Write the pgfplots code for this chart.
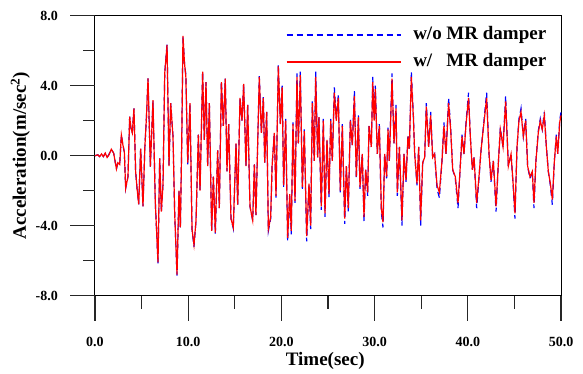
\documentclass[border=0pt]{standalone}
\usepackage{pgfplots}
\pgfplotsset{compat=1.18}
\usepackage{pgfplotstable}
\usepackage{fontspec}
\setmainfont{Liberation Serif}

\pgfplotstableread{
t r b
0.0 0.00 0.00
0.3 0.05 0.05
0.5 -0.05 -0.05
0.7 0.10 0.10
0.9 -0.05 -0.05
1.1 0.15 0.12
1.3 -0.10 -0.10
1.5 0.05 0.08
1.75 0.37 0.37
2.0 0.15 0.15
2.15 -0.30 -0.30
2.3 -0.76 -0.76
2.45 -0.40 -0.40
2.65 -0.50 -0.50
2.83 1.18 1.18
3.0 0.60 0.60
3.15 0.20 0.20
3.29 -1.86 -1.86
3.54 -1.20 -1.20
3.72 2.23 2.23
3.85 1.60 1.60
4.0 1.30 1.30
4.18 2.70 2.70
4.36 -0.90 -0.90
4.5 -1.80 -1.80
4.69 -2.78 -2.78
4.9 0.40 0.40
5.15 -2.90 -2.90
5.35 0.50 0.50
5.51 2.10 2.10
5.69 4.42 4.42
5.94 -0.63 -0.63
6.22 3.17 3.17
6.47 -2.65 -2.65
6.76 -6.10 -6.15
6.94 -0.15 -0.15
7.12 -3.20 -3.20
7.30 -1.60 -1.60
7.48 4.70 4.70
7.73 6.33 6.38
7.94 -0.60 -0.60
8.12 3.00 3.00
8.37 1.10 1.10
8.55 -3.30 -3.30
8.80 -6.80 -6.85
9.01 -2.00 -2.00
9.16 -4.10 -4.10
9.30 0.50 0.50
9.44 6.84 6.84
9.60 5.30 5.30
9.75 4.50 4.60
9.95 -0.40 -0.50
10.19 3.00 3.00
10.41 -4.20 -4.20
10.62 -5.10 -5.20
10.84 -3.70 -3.70
11.09 1.20 1.20
11.27 -2.00 -2.00
11.55 4.80 4.80
11.73 0.90 0.90
11.91 4.20 4.20
12.09 -0.60 -0.60
12.27 3.00 3.00
12.52 -4.30 -4.30
12.70 -1.20 -1.20
12.91 -4.40 -4.45
13.16 0.30 0.30
13.34 -3.00 -3.00
13.56 4.20 4.25
13.77 1.70 1.70
13.98 4.40 4.40
14.16 -0.90 -0.90
14.34 1.80 1.80
14.59 -3.60 -3.60
14.84 -4.10 -4.15
15.13 0.70 0.70
15.31 -2.80 -2.80
15.56 3.30 3.30
15.77 2.00 2.00
15.95 4.10 4.10
16.20 -0.60 -0.60
16.38 2.90 2.90
16.63 -2.90 -2.90
16.92 -3.70 -3.70
17.10 -0.50 -0.50
17.27 -3.40 -3.40
17.45 0.60 0.60
17.63 4.50 4.55
17.85 1.30 1.30
18.06 3.30 3.35
18.21 -0.40 -0.40
18.42 2.50 2.50
18.60 -4.20 -4.30
18.85 -3.50 -3.60
19.00 -0.60 -0.60
19.24 1.30 1.30
19.42 -2.30 -2.40
19.67 5.10 5.20
19.89 1.80 1.80
20.08 3.90 4.00
20.24 -1.70 -1.80
20.46 2.00 2.10
20.67 -4.70 -4.90
20.89 -2.20 -2.30
21.06 -4.30 -4.50
21.24 1.80 1.90
21.46 -2.60 -2.70
21.67 4.50 4.70
21.82 0.70 0.70
22.03 4.60 4.80
22.25 -1.80 -1.90
22.46 1.40 1.50
22.71 -4.60 -4.90
22.96 -1.60 -1.70
23.14 -4.00 -4.20
23.32 3.00 3.10
23.53 -0.30 -0.30
23.68 4.50 4.80
23.89 -0.10 -0.10
24.03 2.20 2.30
24.28 -2.90 -3.10
24.50 2.00 2.10
24.68 -3.30 -3.50
24.89 0.90 0.90
25.11 -2.20 -2.40
25.29 2.00 2.10
25.46 -0.30 -0.30
25.68 3.60 3.90
25.89 2.00 2.10
26.11 3.30 3.50
26.32 -2.00 -2.10
26.54 1.70 1.80
26.79 -3.60 -3.90
26.97 -0.60 -0.60
27.18 -3.00 -3.20
27.40 2.00 2.10
27.61 0.60 0.60
27.83 3.40 3.70
28.04 -1.20 -1.30
28.26 2.20 2.30
28.43 -1.80 -1.90
28.68 0.10 0.10
28.86 -3.50 -3.80
29.04 -0.80 -0.80
29.26 -2.10 -2.30
29.40 1.70 1.80
29.65 0.50 0.50
29.80 4.20 4.50
29.95 2.00 2.20
30.08 3.80 4.00
30.29 0.10 0.10
30.51 1.70 1.80
30.72 -3.00 -3.20
30.90 -3.80 -4.10
31.08 0.10 0.10
31.29 -1.20 -1.30
31.44 1.50 1.60
31.58 -0.30 -0.30
31.87 4.40 4.70
32.08 0.70 0.70
32.30 2.70 2.90
32.44 -2.10 -2.30
32.66 0.50 0.50
32.94 -3.70 -4.00
33.15 0.10 0.10
33.37 -1.40 -1.50
33.58 1.10 1.20
33.73 0.40 0.40
33.94 4.50 4.80
34.16 2.20 2.30
34.30 0.10 0.10
34.55 -1.60 -1.70
34.73 0.50 0.50
34.94 -3.70 -4.00
35.16 -0.40 -0.40
35.37 -0.10 -0.10
35.55 2.80 3.00
35.80 0.50 0.50
36.02 2.30 2.50
36.23 -0.10 -0.10
36.44 0.10 0.10
36.70 -1.70 -1.90
36.95 -2.10 -2.40
37.23 -0.30 -0.30
37.44 1.70 1.90
37.66 0.10 0.10
37.94 3.00 3.30
38.16 1.50 1.60
38.38 -0.80 -0.80
38.66 -1.20 -1.30
38.95 -2.70 -3.00
39.16 -0.90 -0.90
39.38 1.10 1.20
39.59 0.10 0.10
39.81 1.80 1.90
40.08 3.30 3.60
40.27 1.10 1.10
40.49 -0.80 -0.80
40.67 -0.10 -0.10
40.95 -2.70 -3.00
41.20 -1.20 -1.30
41.42 0.30 0.30
41.70 1.70 1.80
42.02 3.30 3.60
42.28 0.10 0.10
42.49 -1.40 -1.50
42.74 -0.30 -0.30
43.03 -2.90 -3.20
43.28 -0.40 -0.40
43.49 1.50 1.60
43.78 0.50 0.50
44.06 3.10 3.40
44.35 -0.60 -0.60
44.64 0.10 0.10
44.89 -1.80 -1.90
45.06 -3.30 -3.60
45.28 0.50 0.50
45.49 2.00 2.10
45.71 2.50 2.70
45.96 1.10 1.10
46.21 2.00 2.10
46.42 -0.60 -0.60
46.67 -1.20 -1.30
46.92 -0.90 -0.90
47.10 -2.70 -3.00
47.31 -0.30 -0.30
47.56 1.30 1.40
47.78 2.00 2.10
47.99 1.50 1.50
48.21 2.30 2.50
48.43 0.50 0.50
48.64 -0.90 -0.90
48.86 -1.60 -1.70
49.07 -2.50 -2.80
49.29 -0.30 -0.30
49.50 1.10 1.20
49.65 0.10 0.10
49.86 1.90 2.00
50.00 2.30 2.50
}\datatable

\begin{document}
\begin{tikzpicture}
\begin{axis}[
  scale only axis, width=466pt, height=280pt,
  xmin=0, xmax=50, ymin=-8, ymax=8,
  xtick={0,10,...,50}, ytick={-8,-4,0,4,8},
  tick align=inside, tick pos=left,
  major tick length=0pt, minor tick length=0pt,
  axis line style={line width=1pt, black},
  clip=false,
  /pgf/number format/.cd, fixed, fixed zerofill, precision=1, assume math mode=true,
  /pgfplots/.cd,
  ticklabel style={font=\bfseries\fontsize{14}{14}\selectfont, inner sep=0pt},
  xticklabel style={anchor=base, yshift=-50.4pt},
  yticklabel style={anchor=east, xshift=-37pt},
  xlabel={Time(sec)}, ylabel={Acceleration(m/sec\textsuperscript{2})},
  label style={font=\bfseries\fontsize{19}{19}\selectfont},
  xlabel style={at={(axis description cs:0.494,-0.25)}, anchor=base},
  ylabel style={at={(axis description cs:-0.16,0.5)}, anchor=center},
  legend style={draw=none, fill=none, at={(axis description cs:0.41,0.8825)}, anchor=west,
    inner sep=0pt, outer sep=0pt, row sep=10pt, column sep=12pt,
    font=\bfseries\fontsize{19}{19}\selectfont,
    nodes={inner sep=0pt, text height=13pt, text depth=4pt}},
  legend cell align=left,
  legend image code/.code={\draw[#1] (0pt,0pt) -- (114pt,0pt);},
]
\addplot[blue, line width=1.2pt, dash pattern=on 6pt off 4pt] table[x=t,y=b]{\datatable};
\addlegendentry{w/o MR damper}
\addplot[red, line width=1.2pt] table[x=t,y=r]{\datatable};
\addlegendentry{w/\phantom{o} MR damper}
% tick marks (axis decoration)
\pgfplotsinvokeforeach{0,10,20,30,40,50}{
  \draw[black!85, line width=1.2pt] (axis cs:#1,-8) -- ([yshift=-25pt]axis cs:#1,-8);}
\pgfplotsinvokeforeach{5,15,25,35,45}{
  \draw[black!85, line width=1.2pt] (axis cs:#1,-8) -- ([yshift=-13pt]axis cs:#1,-8);}
\pgfplotsinvokeforeach{-8,-4,0,4,8}{
  \draw[black!85, line width=1.2pt] (axis cs:0,#1) -- ([xshift=-25pt]axis cs:0,#1);}
\pgfplotsinvokeforeach{-6,-2,2,6}{
  \draw[black!85, line width=1.2pt] (axis cs:0,#1) -- ([xshift=-12pt]axis cs:0,#1);}
\end{axis}
\path ([shift={(-95pt,-76.4pt)}]current axis.south west) rectangle ([shift={(22pt,15.7pt)}]current axis.north east);
\end{tikzpicture}
\end{document}
